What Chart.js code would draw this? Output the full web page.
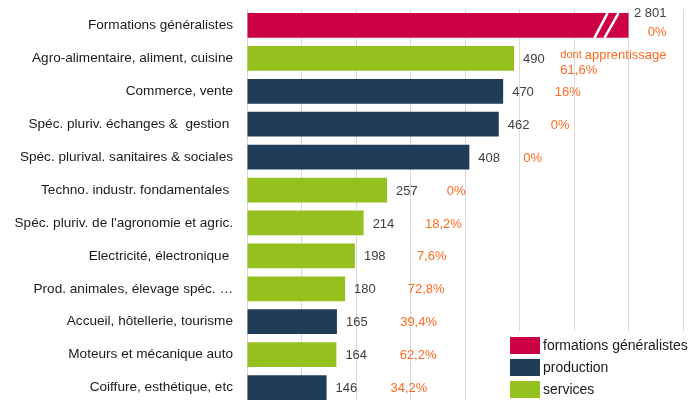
<!DOCTYPE html>
<html>
<head>
<meta charset="utf-8">
<script src="https://cdn.jsdelivr.net/npm/chart.js@4.4.1/dist/chart.umd.min.js"></script>
<style>
  html, body { margin: 0; padding: 0; background: #fff; overflow: hidden; height: 400px; }
  canvas { display: block; }
</style>
</head>
<body>
<canvas id="chart" width="696" height="404"></canvas>
<script>
const categories = [
  "Formations généralistes",
  "Agro-alimentaire, aliment, cuisine",
  "Commerce, vente",
  "Spéc. pluriv. échanges &  gestion ",
  "Spéc. plurival. sanitaires & sociales",
  "Techno. industr. fondamentales ",
  "Spéc. pluriv. de l'agronomie et agric.",
  "Electricité, électronique ",
  "Prod. animales, élevage spéc. …",
  "Accueil, hôtellerie, tourisme",
  "Moteurs et mécanique auto",
  "Coiffure, esthétique, etc"
];
const values = [2801, 490, 470, 462, 408, 257, 214, 198, 180, 165, 164, 146];
const groups = ["gen", "services", "production", "production", "production", "services",
  "services", "services", "services", "production", "services", "production"];
const apprentissage = ["0%", "61,6%", "16%", "0%", "0%", "0%", "18,2%", "7,6%", "72,8%", "39,4%", "62,2%", "34,2%"];
const axisMax = 800;
const breakAt = 700; // the big bar is cut here

const groupColors = { gen: "#cc0044", production: "#1f3d58", services: "#95c11f" };
const legendItems = [
  ["formations généralistes", "gen"],
  ["production", "production"],
  ["services", "services"]
];

const shown = values.map(v => Math.min(v, breakAt));
const fmt = v => String(v).replace(/\B(?=(\d{3})+(?!\d))/g, " ");

const labelsPlugin = {
  id: "labels",
  afterDatasetsDraw(chart) {
    const ctx = chart.ctx;
    const bars = chart.getDatasetMeta(0).data;
    const rightX = bars[0].x + 38;
    ctx.save();
    bars.forEach((bar, i) => {
      if (values[i] > breakAt) {
        // break marks
        const top = bar.y - bar.height / 2, bottom = bar.y + bar.height / 2;
        ctx.strokeStyle = "#fff";
        ctx.lineWidth = 2.5;
        [[-34, -21], [-24, -10]].forEach(([a, b]) => {
          ctx.beginPath();
          ctx.moveTo(bar.x + a, bottom);
          ctx.lineTo(bar.x + b, top);
          ctx.stroke();
        });
        ctx.font = "13px 'Liberation Sans', Arial, sans-serif";
        ctx.textBaseline = "middle";
        ctx.textAlign = "right";
        ctx.fillStyle = "#404040";
        ctx.fillText(fmt(values[i]), rightX, bar.y - 12);
        ctx.fillStyle = "#ff6a21";
        ctx.fillText(apprentissage[i], rightX, bar.y + 6.5);
        return;
      }
      ctx.font = "13px 'Liberation Sans', Arial, sans-serif";
      ctx.textBaseline = "middle";
      ctx.textAlign = "left";
      ctx.fillStyle = "#404040";
      ctx.fillText(fmt(values[i]), bar.x + 9, bar.y + 1);
      ctx.fillStyle = "#ff6a21";
      if (i === 1) {
        ctx.font = "11px 'Liberation Sans', Arial, sans-serif";
        const w1 = ctx.measureText("dont ").width;
        ctx.font = "13px 'Liberation Sans', Arial, sans-serif";
        const w2 = ctx.measureText("apprentissage").width;
        const start = rightX - w1 - w2;
        ctx.font = "11px 'Liberation Sans', Arial, sans-serif";
        ctx.fillText("dont ", start, bar.y - 3);
        ctx.font = "13px 'Liberation Sans', Arial, sans-serif";
        ctx.fillText("apprentissage", start + w1, bar.y - 3);
        ctx.fillText(apprentissage[i], start, bar.y + 12.5);
      } else {
        const px = bar.x + 64 - (bar.x - 326) * 0.07;
        ctx.fillText(apprentissage[i], px, bar.y + 1);
      }
    });
    ctx.restore();
  },
  afterDraw(chart) {
    const ctx = chart.ctx;
    ctx.save();
    ctx.fillStyle = "#fff";
    ctx.fillRect(505, 331, 191, 73);
    ctx.font = "14px 'Liberation Sans', Arial, sans-serif";
    ctx.textBaseline = "middle";
    ctx.textAlign = "left";
    legendItems.forEach(([text, key], k) => {
      const y = 337 + k * 22;
      ctx.fillStyle = groupColors[key];
      ctx.fillRect(510, y, 30, 17);
      ctx.fillStyle = "#1a1a1a";
      ctx.fillText(text, 543, y + 9);
    });
    ctx.restore();
  }
};

new Chart(document.getElementById("chart"), {
  type: "bar",
  data: {
    labels: categories,
    datasets: [{
      data: shown,
      backgroundColor: groups.map(g => groupColors[g]),
      barPercentage: 0.75,
      categoryPercentage: 1
    }]
  },
  options: {
    indexAxis: "y",
    responsive: false,
    animation: false,
    devicePixelRatio: 1,
    layout: { padding: { top: 9, right: 13, left: 0, bottom: 0 } },
    plugins: { legend: { display: false }, tooltip: { enabled: false } },
    scales: {
      x: {
        min: 0,
        max: axisMax,
        ticks: { display: false, stepSize: 100 },
        grid: { color: "#d9d9d9", drawTicks: false },
        border: { display: false },
        afterFit(scale) { scale.height = 0; scale.paddingLeft = 0; scale.paddingRight = 0; }
      },
      y: {
        ticks: {
          color: "#1a1a1a",
          padding: 14,
          font: { family: "'Liberation Sans', Arial, sans-serif", size: 13.6 }
        },
        grid: { display: false, drawTicks: false },
        border: { display: true, color: "#d9d9d9" },
        afterFit(scale) {
          scale.width = 247;
          scale.paddingTop = 0;
          scale.paddingBottom = 0;
        }
      }
    }
  },
  plugins: [labelsPlugin]
});
</script>
</body>
</html>
